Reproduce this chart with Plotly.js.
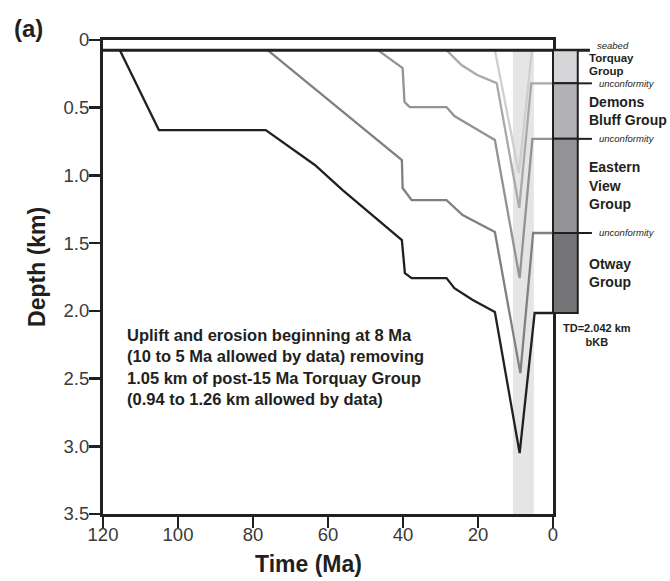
<!DOCTYPE html>
<html>
<head>
<meta charset="utf-8">
<script src="https://cdn.plot.ly/plotly-3.0.1.min.js"></script>
<style>
  html, body { margin: 0; padding: 0; background: #fff; }
  #chart { width: 670px; height: 581px; }
</style>
</head>
<body>
<div id="chart"></div>
<script>
// Burial history of each horizon: age (Ma) against depth below seabed datum (km)
const otwayBaseAge   = [115.5, 105.1, 76.6, 63.5, 56.1, 50.7, 40.3, 39.5, 37.7, 28.4, 26.3, 21.4, 15.5, 8.9, 4.9, 0];
const otwayBaseDepth = [0.075, 0.665, 0.665, 0.923, 1.108, 1.233, 1.477, 1.721, 1.758, 1.758, 1.832, 1.920, 2.009, 3.05, 2.016, 2.016];

const easternViewBaseAge   = [76.1, 40.3, 40.1, 38.2, 37.7, 28.4, 27.0, 24.1, 15.5, 8.7, 5.3, 0];
const easternViewBaseDepth = [0.075, 0.886, 1.093, 1.167, 1.182, 1.182, 1.219, 1.292, 1.418, 2.46, 1.425, 1.425];

const demonsBluffBaseAge   = [46.7, 40.1, 39.6, 38.2, 28.4, 26.3, 15.5, 8.9, 5.5, 0];
const demonsBluffBaseDepth = [0.075, 0.207, 0.458, 0.495, 0.495, 0.561, 0.739, 1.758, 0.73, 0.73];

const torquayBaseAge   = [28.4, 24.4, 20.2, 15.0, 9.0, 5.8, 0];
const torquayBaseDepth = [0.075, 0.185, 0.258, 0.318, 1.24, 0.32, 0.32];

const post15Age   = [15.5, 9.1, 5.6, 0];
const post15Depth = [0.075, 0.982, 0.075, 0.075];

// Uplift window and seabed
const erosionWindowMa = [10.7, 5.1];
const seabedDepth = 0.075;

// Stratigraphic column at the well
const groupNames  = [['Torquay', 'Group'], ['Demons', 'Bluff Group'], ['Eastern', 'View', 'Group'], ['Otway', 'Group']];
const groupTops   = [0.075, 0.32, 0.73, 1.425];
const groupBases  = [0.32, 0.73, 1.425, 2.016];
const unconformityDepths = [0.32, 0.73, 1.425];

// Axis ticks
const xTickVals = [120, 100, 80, 60, 40, 20, 0];
const xTickText = ['120', '100', '80', '60', '40', '20', '0'];
const yTickVals = [0, 0.5, 1.0, 1.5, 2.0, 2.5, 3.0, 3.5];
const yTickText = ['0', '0.5', '1.0', '1.5', '2.0', '2.5', '3.0', '3.5'];

const INK = '#231f20';
const FONT = 'Liberation Sans, Arial, Helvetica, sans-serif';

const curves = [
  { x: post15Age,          y: post15Depth,          color: '#cfcfd1' },
  { x: torquayBaseAge,     y: torquayBaseDepth,     color: '#a9a9ab' },
  { x: demonsBluffBaseAge, y: demonsBluffBaseDepth, color: '#939395' },
  { x: easternViewBaseAge, y: easternViewBaseDepth, color: '#808082' },
  { x: otwayBaseAge,       y: otwayBaseDepth,       color: INK }
];

const traces = curves.map(c => ({
  type: 'scatter',
  mode: 'lines',
  x: c.x,
  y: c.y,
  line: { color: c.color, width: 2.3 },
  hoverinfo: 'skip'
}));

const columnFills = ['#d6d6d8', '#b3b3b6', '#939396', '#747477'];
const colX0 = 1.0, colX1 = 1.055;

const shapes = [
  // uplift / erosion time window
  {
    type: 'rect', layer: 'below', xref: 'x', yref: 'y',
    x0: erosionWindowMa[0], x1: erosionWindowMa[1], y0: seabedDepth, y1: 3.5,
    fillcolor: '#e5e5e5', line: { width: 0 }
  },
  // seabed datum
  {
    type: 'line', xref: 'paper', yref: 'y',
    x0: 0, x1: 1.082, y0: seabedDepth, y1: seabedDepth,
    line: { color: INK, width: 3 }
  }
];

groupNames.forEach((g, i) => {
  shapes.push({
    type: 'rect', xref: 'paper', yref: 'y',
    x0: colX0, x1: colX1, y0: groupTops[i], y1: groupBases[i],
    fillcolor: columnFills[i], line: { color: INK, width: 2 }
  });
});

unconformityDepths.forEach(d => {
  shapes.push({
    type: 'line', xref: 'paper', yref: 'y',
    x0: colX1, x1: 1.0865, y0: d, y1: d,
    line: { color: INK, width: 2 }
  });
});

const annotations = [
  {
    text: '(a)', xref: 'paper', yref: 'paper', x: -0.165, y: 1.025,
    xanchor: 'center', yanchor: 'middle', showarrow: false,
    font: { family: FONT, size: 24, color: INK, weight: 'bold' }
  },
  {
    text: 'Time (Ma)', xref: 'paper', yref: 'paper', x: 0.457, y: -0.1065,
    xanchor: 'center', yanchor: 'middle', showarrow: false,
    font: { family: FONT, size: 23, color: INK, weight: 'bold' }
  },
  {
    text: 'Depth (km)', xref: 'paper', yref: 'paper', x: -0.147, y: 0.521,
    xanchor: 'center', yanchor: 'middle', textangle: -90, showarrow: false,
    font: { family: FONT, size: 23, color: INK, weight: 'bold' }
  },
  {
    text: 'Uplift and erosion beginning at 8 Ma<br>(10 to 5 Ma allowed by data) removing<br>1.05 km of post-15 Ma Torquay Group<br>(0.94 to 1.26 km allowed by data)',
    xref: 'x', yref: 'y', x: 114.2, y: 2.415,
    xanchor: 'left', yanchor: 'middle', align: 'left', showarrow: false,
    font: { family: FONT, size: 16.5, color: INK, weight: 'bold' }
  },
  {
    text: 'seabed', xref: 'paper', yref: 'y', x: 1.093, y: seabedDepth, yshift: 5,
    xanchor: 'left', yanchor: 'middle', showarrow: false,
    font: { family: FONT, size: 9.5, color: INK, style: 'italic' }
  },
  {
    text: 'TD=2.042 km<br>bKB', xref: 'paper', yref: 'y', x: 1.098, y: groupBases[3], yshift: -22,
    xanchor: 'center', yanchor: 'middle', showarrow: false,
    font: { family: FONT, size: 11, color: INK, weight: 'bold' }
  }
];

unconformityDepths.forEach(d => {
  annotations.push({
    text: 'unconformity', xref: 'paper', yref: 'y', x: 1.097, y: d, yshift: 0,
    xanchor: 'left', yanchor: 'middle', showarrow: false,
    font: { family: FONT, size: 9.5, color: INK, style: 'italic' }
  });
});

// group names, one annotation per line, centred on each unit
groupNames.forEach((lines, i) => {
  const size = i === 0 ? 11.5 : 14;
  const step = i === 0 ? 13.5 : 18.5;
  const lift = i === 0 ? 2.5 : 0;
  const mid = (groupTops[i] + groupBases[i]) / 2;
  lines.forEach((ln, k) => {
    annotations.push({
      text: ln, xref: 'paper', yref: 'y', x: 1.0756, y: mid,
      yshift: lift - (k - (lines.length - 1) / 2) * step,
      xanchor: 'left', yanchor: 'middle', align: 'left', showarrow: false,
      font: { family: FONT, size: size, color: INK, weight: 'bold' }
    });
  });
});

const axisCommon = {
  showline: true, mirror: true, linewidth: 3, linecolor: INK,
  ticks: 'outside', ticklen: 11, tickwidth: 2.5, tickcolor: INK,
  showgrid: false, zeroline: false, fixedrange: true,
  tickfont: { family: FONT, size: 18.5, color: '#3a3a3a' }
};

const layout = {
  width: 670, height: 581,
  margin: { l: 103, r: 117, t: 40, b: 67 },
  paper_bgcolor: '#ffffff', plot_bgcolor: '#ffffff',
  showlegend: false,
  font: { family: FONT, color: INK },
  xaxis: Object.assign({}, axisCommon, {
    range: [120, 0], tickmode: 'array', tickvals: xTickVals, ticktext: xTickText,
    ticklabelstandoff: -9
  }),
  yaxis: Object.assign({}, axisCommon, {
    range: [3.5, 0], tickmode: 'array', tickvals: yTickVals, ticktext: yTickText,
    ticklabelstandoff: -4
  }),
  shapes: shapes,
  annotations: annotations
};

Plotly.newPlot('chart', traces, layout, { displayModeBar: false, staticPlot: true });
</script>
</body>
</html>
